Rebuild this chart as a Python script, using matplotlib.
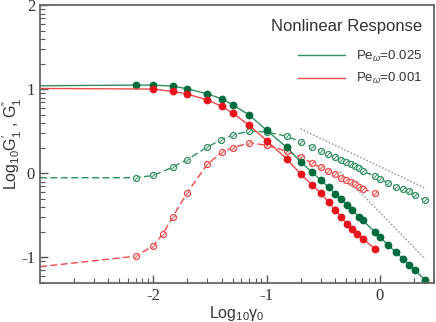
import numpy as np
import matplotlib
matplotlib.use("Agg")
import matplotlib.pyplot as plt
from matplotlib.path import Path

plt.rcParams['font.family'] = ['Liberation Sans', 'DejaVu Sans']
plt.rcParams['mathtext.fontset'] = 'custom'
plt.rcParams['mathtext.rm'] = 'Liberation Sans'
plt.rcParams['mathtext.it'] = 'Liberation Sans:italic'
plt.rcParams['axes.unicode_minus'] = False

# datos (log10 gamma0, log10 G)
# el primer punto de cada serie es el borde izquierdo (sin marcador)
x_g_025 = [-3, -2.156, -2.001, -1.827, -1.701, -1.527, -1.397, -1.300, -1.154, -1.0, -0.823,
           -0.697, -0.600, -0.521, -0.453, -0.395, -0.344, -0.294, -0.247, -0.188, -0.153,
           -0.041, 0.0, 0.073, 0.144, 0.206, 0.259, 0.306, 0.400]
y_g1_025 = [1.044, 1.052, 1.052, 1.040, 1.008, 0.949, 0.890, 0.818, 0.696, 0.514, 0.312,
            0.134, 0.015, -0.079, -0.166, -0.241, -0.308, -0.371, -0.431, -0.514, -0.558,
            -0.700, -0.756, -0.854, -0.941, -1.020, -1.091, -1.151, -1.266]

x_gg_025 = [-3, -2.154, -2.001, -1.827, -1.701, -1.524, -1.401, -1.300, -1.154, -1.0, -0.823,
            -0.700, -0.603, -0.523, -0.456, -0.397, -0.347, -0.300, -0.259, -0.218, -0.183,
            -0.153, -0.044, 0.0, 0.073, 0.141, 0.200, 0.259, 0.306, 0.394]
y_g2_025 = [-0.051, -0.051, -0.024, 0.075, 0.166, 0.312, 0.403, 0.459, 0.502, 0.495, 0.443,
            0.376, 0.317, 0.269, 0.234, 0.193, 0.166, 0.139, 0.115, 0.087, 0.059,
            0.032, -0.036, -0.068, -0.110, -0.158, -0.190, -0.210, -0.261, -0.317]

x_g_001 = [-3, -2.001, -1.827, -1.701, -1.527, -1.397, -1.300, -1.154, -1.0, -0.823,
           -0.697, -0.600, -0.521, -0.453, -0.395, -0.344, -0.294, -0.247, -0.203, -0.153, -0.041]
y_g1_001 = [1.012, 1.005, 0.976, 0.945, 0.878, 0.800, 0.720, 0.573, 0.391, 0.174,
            -0.012, -0.134, -0.237, -0.340, -0.431, -0.518, -0.597, -0.664, -0.724, -0.775, -0.902]

x_gg_001 = [-3, -2.154, -2.001, -1.918, -1.827, -1.701, -1.524, -1.397, -1.300, -1.154, -1.0,
            -0.823, -0.700, -0.603, -0.523, -0.456, -0.397, -0.347, -0.300, -0.259, -0.218,
            -0.183, -0.153, -0.044]
y_g2_001 = [-1.11, -0.985, -0.862, -0.724, -0.514, -0.229, 0.107, 0.253, 0.305, 0.364, 0.336,
            0.265, 0.193, 0.127, 0.071, 0.027, -0.012, -0.051, -0.079, -0.103, -0.130,
            -0.158, -0.180, -0.237]

# lineas de referencia punteadas
x_ref1 = [-0.70, 0.40]
y_ref1 = [0.53, -0.175]
x_ref2 = [-0.35, 0.40]
y_ref2 = [0.02, -1.02]

etiquetas = ["Pe$_\\omega$=0.025", "Pe$_\\omega$=0.001"]

verde_l = "#2f8f5f"
verde_m = "#006b3c"
rojo_l = "#f04848"
rojo_m = "#e8141c"

raya = Path([(-0.75, -0.75), (0.75, 0.75)], [Path.MOVETO, Path.LINETO])

fig = plt.figure(figsize=(4.36, 3.22), dpi=100)
ax = fig.add_axes([0.0917, 0.122, 0.9037, 0.861])

ax.plot(x_ref1, y_ref1, ls=(0, (1, 1.5)), color="#8a8a8a", lw=1)
ax.plot(x_ref2, y_ref2, ls=(0, (1, 1.5)), color="#8a8a8a", lw=1)

# G'' (abiertos, discontinuos)
for xs, ys, cl, cm in [(x_gg_025, y_g2_025, verde_l, verde_m), (x_gg_001, y_g2_001, rojo_l, rojo_m)]:
    ax.plot(xs, ys, ls=(0, (5, 2.5)), color=cl, lw=1)
    ax.plot(xs[1:], ys[1:], ls="none", marker="o", ms=4.3, mfc="white", mec=cl, mew=0.9)
    ax.plot(xs[1:], ys[1:], ls="none", marker=raya, ms=3.2, mec=cl, mew=0.7)

# G' (llenos, continuos)
l1, = ax.plot(x_g_025, y_g1_025, color=verde_l, lw=1, label=etiquetas[0])
ax.plot(x_g_025[1:], y_g1_025[1:], ls="none", marker="o", ms=4.6, color=verde_m)
l2, = ax.plot(x_g_001, y_g1_001, color=rojo_l, lw=1, label=etiquetas[1])
ax.plot(x_g_001[1:], y_g1_001[1:], ls="none", marker="o", ms=4.6, color=rojo_m)

ax.set_xticks([-2, -1, 0])
ax.set_xticklabels(["-2", "-1", "0"])
ax.set_yticks([-1, 0, 1, 2])
ax.set_yticklabels(["-1", "0", "1", "2"])
k = np.log10(np.arange(2, 10))
ax.set_xticks(np.concatenate([d + k for d in [-3, -2, -1, 0]]), minor=True)
ax.set_yticks(np.concatenate([d + k for d in [-2, -1, 0, 1]]), minor=True)
ax.set_xlim(-3, np.log10(3))
ax.set_ylim(np.log10(0.05), 2)

ax.tick_params(which="both", direction="in", color="#555555", top=False, right=False)
ax.tick_params(which="major", length=6, width=1)
ax.tick_params(which="minor", length=3.5, width=0.8)
for lab in ax.get_xticklabels() + ax.get_yticklabels():
    lab.set_family("Liberation Serif")
    lab.set_fontsize(12)
    lab.set_color("#333333")
for s in ax.spines.values():
    s.set_color("#666666")
    s.set_linewidth(1.3)

ax.set_xlabel("Log$_{10}$γ$_0$", fontsize=11.5, color="#333333")
ax.set_ylabel("Log$_{10}$G$_1^{\u2032}$ , G$_1^{\u2033}$", fontsize=11.5, color="#333333")
ax.xaxis.set_label_coords(0.5, -0.078)
ax.yaxis.set_label_coords(-0.04, 0.5)

leg = ax.legend(handles=[l1, l2], title="Nonlinear Response", frameon=False, loc="upper right",
                bbox_to_anchor=(1.0, 0.995), fontsize=9.5, handlelength=3.6,
                alignment="right", labelspacing=0.55, handletextpad=0.8)
leg.get_title().set_fontsize(12)
leg.get_title().set_color("#333333")
for t in leg.get_texts():
    t.set_color("#333333")
leg._legend_box.sep = 11

fig.savefig("out.png", dpi=100)
